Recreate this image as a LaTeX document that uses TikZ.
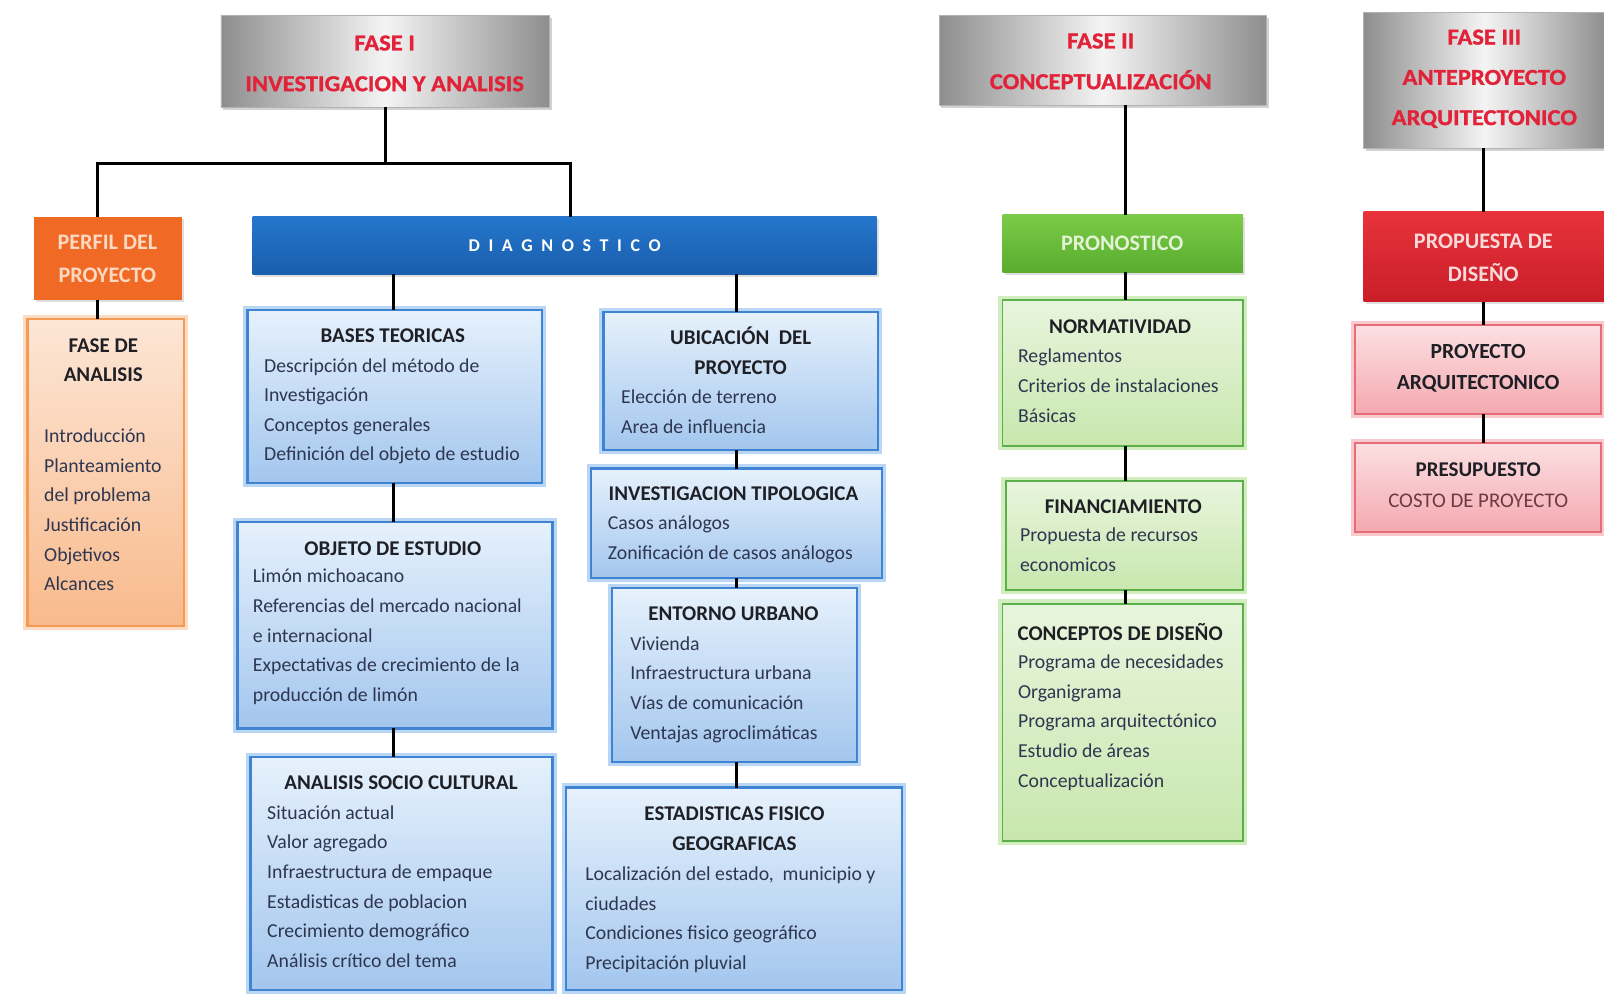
\documentclass[tikz,border=0pt]{standalone}
\usepackage{fontspec}
\setmainfont{Carlito}
\newfontfamily\heavyfont[FakeBold=1.2, FakeStretch=1.08]{Carlito Bold}
\usetikzlibrary{fit,shadows,calc}

% palette
\definecolor{phgray}{HTML}{8E8E8E}
\definecolor{phlight}{HTML}{F4F4F4}
\definecolor{phred}{HTML}{E22238}
\definecolor{ttlcol}{HTML}{1F2026}
\definecolor{bodycol}{HTML}{2E3650}
\definecolor{orgdark}{HTML}{F06A26}
\definecolor{orgtxt}{HTML}{FCD9C3}
\definecolor{peachtop}{HTML}{FDE6D6}
\definecolor{peachbot}{HTML}{F8BA8C}
\definecolor{peachline}{HTML}{F39A55}
\definecolor{diagtop}{HTML}{2476CC}
\definecolor{diagbot}{HTML}{1A5EAE}
\definecolor{bltop}{HTML}{E6F1FC}
\definecolor{blbot}{HTML}{A3C6EE}
\definecolor{blline}{HTML}{3F84D2}
\definecolor{blglow}{HTML}{B9D6F4}
\definecolor{grtop}{HTML}{7CCB48}
\definecolor{grbot}{HTML}{58AC2E}
\definecolor{grtxt}{HTML}{E4F3D6}
\definecolor{lgtop}{HTML}{E8F5DD}
\definecolor{lgbot}{HTML}{C8E7AE}
\definecolor{lgline}{HTML}{5CB04A}
\definecolor{lgglow}{HTML}{D2EDBE}
\definecolor{rdtop}{HTML}{E8333A}
\definecolor{rdbot}{HTML}{C91E2A}
\definecolor{rdtxt}{HTML}{F8DADA}
\definecolor{pktop}{HTML}{FCE0E2}
\definecolor{pkbot}{HTML}{F4A9B0}
\definecolor{pkline}{HTML}{E66C78}
\definecolor{pkglow}{HTML}{F8C9CD}
\definecolor{costcol}{HTML}{6E3B42}

\tikzset{
  conn/.style={line width=2.6pt, black},
  card/.style={inner sep=0pt, outer sep=0pt},
  phase/.style={card, left color=phgray, right color=phgray, middle color=phlight,
    draw=gray!60, line width=0.6pt,
    drop shadow={opacity=0.35, shadow xshift=2pt, shadow yshift=-2pt}},
  phtxt/.style={inner sep=0pt, align=center, font=\fontsize{19}{34}\heavyfont, text=phred},
  headbox/.style={card, drop shadow={opacity=0.25, shadow xshift=2pt, shadow yshift=-2pt}},
  orangehead/.style={headbox, fill=orgdark},
  diaghead/.style={headbox, top color=diagtop, bottom color=diagbot},
  greenhead/.style={headbox, top color=grtop, bottom color=grbot},
  redhead/.style={headbox, top color=rdtop, bottom color=rdbot},
  peachcard/.style={card, top color=peachtop, bottom color=peachbot, draw=peachline, line width=2pt,
    preaction={draw=peachline!35, line width=7pt}},
  bluecard/.style={card, top color=bltop, bottom color=blbot, draw=blline, line width=2pt,
    preaction={draw=blglow, line width=7pt}},
  greencard/.style={card, top color=lgtop, bottom color=lgbot, draw=lgline, line width=1.6pt,
    preaction={draw=lgglow, line width=7pt}},
  pinkcard/.style={card, top color=pktop, bottom color=pkbot, draw=pkline, line width=1.6pt,
    preaction={draw=pkglow, line width=7pt}},
  headtxt/.style={inner sep=0pt, align=center, font=\fontsize{18.5}{27}\selectfont\bfseries},
  ttl/.style={inner sep=0pt, align=center, font=\fontsize{17.5}{25.6}\selectfont\bfseries, text=ttlcol},
  body/.style={anchor=north west, inner sep=0pt, align=left, font=\fontsize{16.5}{24.75}\selectfont, text=bodycol},
}

\begin{document}
\begin{tikzpicture}[x=0.3mm, y=-0.3mm]
\useasboundingbox[fill=white] (0,0) rectangle (1568,978);

% ---------- phase headers ----------
\node[phase, fit={(216,15) (537,105)}] (f1) {};
\node[phtxt] (f1t) at (376,62) {FASE I\\INVESTIGACION Y ANALISIS};
\node[phase, fit={(918,15) (1238,103)}] (f2) {};
\node[phtxt] (f2t) at (1076,60) {FASE II\\CONCEPTUALIZACIÓN};
\node[phase, fit={(1333,12) (1570,145)}] (f3) {};
\node[phtxt, font=\fontsize{19}{33.6}\heavyfont] (f3t) at (1451,77) {FASE III\\ANTEPROYECTO\\ARQUITECTONICO};

% ---------- phase I ----------
\node[orangehead, fit={(33,212) (178,293)}] (perfil) {};
\node[headtxt, text=orgtxt] (perfilt) at (105,253) {PERFIL DEL\\PROYECTO};

\node[peachcard, fit={(27,312) (180,612)}] (fa) {};
\node[ttl, font=\fontsize{17.5}{24.75}\selectfont\bfseries] (fat) at (101,352) {FASE DE\\ANALISIS};
\node[body] (fab) at (43,419) {Introducción\\Planteamiento\\del problema\\Justificación\\Objetivos\\Alcances};

\node[diaghead, fit={(247,212) (857,268)}] (diag) {};
\node[inner sep=0pt, text=white, font=\fontsize{15}{17}\selectfont\bfseries\addfontfeatures{LetterSpace=48}] (diagt) at (552,240) {DIAGNOSTICO};

\node[bluecard, fit={(242,303) (530,472)}] (bt) {};
\node[ttl] (btt) at (384,328) {BASES TEORICAS};
\node[body] (btb) at (258,350) {Descripción del método de\\Investigación\\Conceptos generales\\Definición del objeto de estudio};

\node[bluecard, fit={(232,510) (540,712)}] (oe) {};
\node[ttl] (oet) at (384,536) {OBJETO DE ESTUDIO};
\node[body] (oeb) at (247,556) {Limón michoacano\\Referencias del mercado nacional\\e internacional\\Expectativas de crecimiento de la\\producción de limón};

\node[bluecard, fit={(245,740) (540,968)}] (asc) {};
\node[ttl] (asct) at (392,765) {ANALISIS SOCIO CULTURAL};
\node[body] (ascb) at (261,787) {Situación actual\\Valor agregado\\Infraestructura de empaque\\Estadisticas de poblacion\\Crecimiento demográfico\\Análisis crítico del tema};

\node[bluecard, fit={(590,305) (858,440)}] (ub) {};
\node[ttl] (ubt) at (724,343) {UBICACIÓN\ \ DEL\\PROYECTO};
\node[body] (ubb) at (607,381) {Elección de terreno\\Area de influencia};

\node[bluecard, fit={(578,458) (862,565)}] (it) {};
\node[ttl] (itt) at (717,483) {INVESTIGACION TIPOLOGICA};
\node[body] (itb) at (594,504) {Casos análogos\\Zonificación de casos análogos};

\node[bluecard, fit={(598,575) (838,745)}] (eu) {};
\node[ttl] (eut) at (717,600) {ENTORNO URBANO};
\node[body] (eub) at (616,622) {Vivienda\\Infraestructura urbana\\Vías de comunicación\\Ventajas agroclimáticas};

\node[bluecard, fit={(553,770) (882,968)}] (es) {};
\node[ttl] (est) at (718,810) {ESTADISTICAS FISICO\\GEOGRAFICAS};
\node[body] (esb) at (572,847) {Localización del estado,\ \ municipio y\\ciudades\\Condiciones fisico geográfico\\Precipitación pluvial};

% ---------- phase II ----------
\node[greenhead, fit={(980,210) (1215,266)}] (pr) {};
\node[headtxt, text=grtxt] (prt) at (1097,238) {PRONOSTICO};

\node[greencard, fit={(980,293) (1215,436)}] (nm) {};
\node[ttl] (nmt) at (1095,319) {NORMATIVIDAD};
\node[body] (nmb) at (995,341) {Reglamentos\\Criterios de instalaciones\\Básicas};

\node[greencard, fit={(983,470) (1215,577)}] (fi) {};
\node[ttl] (fit) at (1098,495) {FINANCIAMIENTO};
\node[body] (fib) at (997,516) {Propuesta de recursos\\economicos};

\node[greencard, fit={(980,590) (1215,822)}] (cd) {};
\node[ttl] (cdt) at (1095,618) {CONCEPTOS DE DISEÑO};
\node[body] (cdb) at (995,640) {Programa de necesidades\\Organigrama\\Programa arquitectónico\\Estudio de áreas\\Conceptualización};

% ---------- phase III ----------
\node[redhead, fit={(1333,207) (1570,295)}] (pd) {};
\node[headtxt, text=rdtxt, font=\fontsize{18.5}{27.3}\selectfont\bfseries] (pdt) at (1450,252) {PROPUESTA DE\\DISEÑO};

\node[pinkcard, fit={(1325,318) (1565,405)}] (pa) {};
\node[ttl, font=\fontsize{18}{26.5}\selectfont\bfseries] (pat) at (1445,360) {PROYECTO\\ARQUITECTONICO};

\node[pinkcard, fit={(1325,433) (1565,520)}] (ps) {};
\node[ttl] (pst) at (1445,459) {PRESUPUESTO};
\node[inner sep=0pt, font=\fontsize{17.4}{20}\selectfont, text=costcol] (psb) at (1445,490) {COSTO DE PROYECTO};

% ---------- connectors ----------
\coordinate (jl) at (95,160);
\coordinate (jr) at (558,160);
\coordinate (cl) at (385,0);
\coordinate (cr) at (720,0);
\coordinate (c2) at (1100,0);
\coordinate (c3) at (1450,0);

\draw[conn] (f1.south) -- (f1.south |- jl);
\draw[conn] (perfil.north -| jl) |- (jr) -- (diag.north -| jr);
\draw[conn] (perfil.south -| jl) -- (fa.north -| jl);

\draw[conn] (diag.south -| cl) -- (bt.north -| cl);
\draw[conn] (bt.south -| cl) -- (oe.north -| cl);
\draw[conn] (oe.south -| cl) -- (asc.north -| cl);

\draw[conn] (diag.south -| cr) -- (ub.north -| cr);
\draw[conn] (ub.south -| cr) -- (it.north -| cr);
\draw[conn] (it.south -| cr) -- (eu.north -| cr);
\draw[conn] (eu.south -| cr) -- (es.north -| cr);

\draw[conn] (f2.south -| c2) -- (pr.north -| c2);
\draw[conn] (pr.south -| c2) -- (nm.north -| c2);
\draw[conn] (nm.south -| c2) -- (fi.north -| c2);
\draw[conn] (fi.south -| c2) -- (cd.north -| c2);

\draw[conn] (f3.south -| c3) -- (pd.north -| c3);
\draw[conn] (pd.south -| c3) -- (pa.north -| c3);
\draw[conn] (pa.south -| c3) -- (ps.north -| c3);
\end{tikzpicture}
\end{document}
